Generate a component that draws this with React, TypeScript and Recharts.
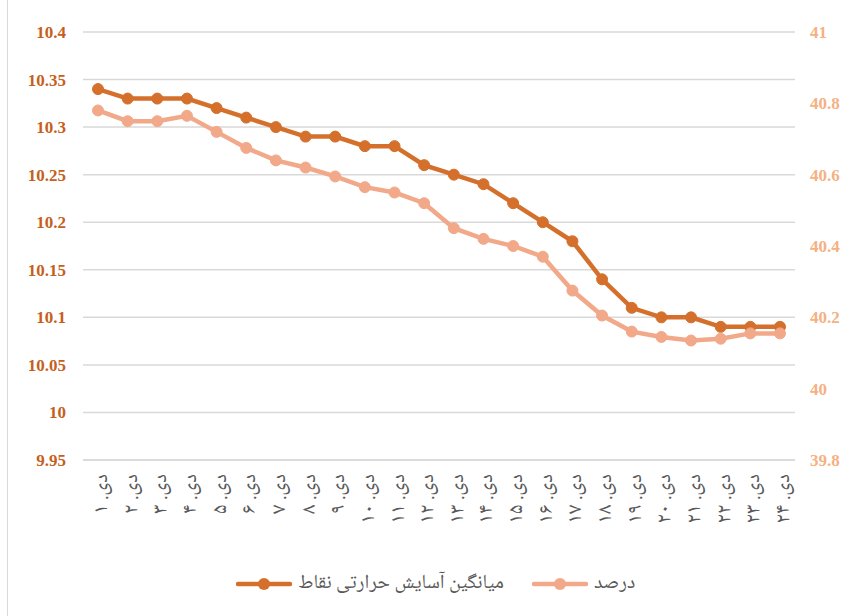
import React from 'react'
import { LineChart, Line, XAxis, YAxis, CartesianGrid } from 'recharts'

// x categories (rotated labels under the axis)
const categories = [
  'دی. ۱', 'دی. ۲', 'دی. ۳', 'دی. ۴', 'دی. ۵', 'دی. ۶', 'دی. ۷', 'دی. ۸',
  'دی. ۹', 'دی. ۱۰', 'دی. ۱۱', 'دی. ۱۲', 'دی. ۱۳', 'دی. ۱۴', 'دی. ۱۵', 'دی. ۱۶',
  'دی. ۱۷', 'دی. ۱۸', 'دی. ۱۹', 'دی. ۲۰', 'دی. ۲۱', 'دی. ۲۲', 'دی. ۲۳', 'دی. ۲۴',
]

// left axis series
const comfortAvg = [
  10.34, 10.33, 10.33, 10.33, 10.32, 10.31, 10.30, 10.29, 10.29, 10.28, 10.28, 10.26,
  10.25, 10.24, 10.22, 10.20, 10.18, 10.14, 10.11, 10.10, 10.10, 10.09, 10.09, 10.09,
]

// right axis series
const percent = [
  40.78, 40.75, 40.75, 40.765, 40.72, 40.675, 40.64, 40.62, 40.595, 40.565, 40.55, 40.52,
  40.45, 40.42, 40.40, 40.37, 40.275, 40.205, 40.16, 40.145, 40.135, 40.14, 40.155, 40.155,
]

const leftTicks = [9.95, 10, 10.05, 10.1, 10.15, 10.2, 10.25, 10.3, 10.35, 10.4]
const rightTicks = [39.8, 40, 40.2, 40.4, 40.6, 40.8, 41]

const seriesNames = ['میانگین آسایش حرارتی نقاط', 'درصد']

const DARK = '#D4702C'
const LIGHT = '#F2A98A'
const RIGHT_TEXT = '#F4B183'
const LEFT_TEXT = '#C65F1E'
const GRID = '#D9D9D9'
const TEXT = '#595959'
const SERIF = 'Liberation Serif, DejaVu Serif, serif'
const ARABIC_FONT = "'Noto Naskh Arabic', 'Noto Sans Arabic', 'DejaVu Serif', 'DejaVu Sans', serif"

const data = categories.map((name, i) => ({
  name,
  comfort: comfortAvg[i],
  percent: percent[i],
}))

const fmt = (v: number) => String(parseFloat(v.toFixed(2)))

function XTick({ x, y, payload }: any) {
  const bx = x + 9
  const by = y + 14
  return (
    <text
      x={bx}
      y={by}
      transform={`rotate(-90 ${bx} ${by})`}
      textAnchor="end"
      fill={TEXT}
      fontSize={21}
      fontFamily={ARABIC_FONT}
    >
      {payload.value}
    </text>
  )
}

function LeftTick({ x, y, payload }: any) {
  return (
    <text x={x} y={y} dy={6} textAnchor="end" fill={LEFT_TEXT}
      fontSize={17} fontWeight={700} fontFamily={SERIF}>
      {fmt(payload.value)}
    </text>
  )
}

function RightTick({ x, y, payload }: any) {
  return (
    <text x={x} y={y} dy={6} textAnchor="start" fill={RIGHT_TEXT}
      fontSize={17} fontWeight={700} fontFamily={SERIF}>
      {fmt(payload.value)}
    </text>
  )
}

function LegendItem({ color, label, width }: { color: string; label: string; width: number }) {
  return (
    <div style={{ display: 'flex', alignItems: 'center', width: width }}>
      <svg width={56} height={14} style={{ marginRight: 6, flex: 'none' }}>
        <line x1={2} y1={7} x2={54} y2={7} stroke={color} strokeWidth={4.5} strokeLinecap="round" />
        <circle cx={28} cy={7} r={6} fill={color} />
      </svg>
      <span style={{ color: TEXT, fontSize: 20, fontFamily: ARABIC_FONT, direction: 'rtl', whiteSpace: 'nowrap' }}>{label}</span>
    </div>
  )
}

export default function App() {
  return (
    <div style={{ position: 'fixed', left: 0, top: 0, width: 852, height: 616, background: '#fff', overflow: 'hidden' }}>
      <div style={{ position: 'absolute', left: 7, top: 0, width: 1, height: 616, background: GRID }} />
      <LineChart
        width={852}
        height={616}
        data={data}
        margin={{ top: 32, right: 0, left: 8, bottom: 86 }}
      >
        <CartesianGrid yAxisId="left" vertical={false} stroke={GRID} strokeWidth={1.5} />
        <XAxis
          dataKey="name"
          interval={0}
          height={70}
          padding={{ left: 15, right: 15 }}
          tick={<XTick />}
          tickLine={false}
          tickSize={0}
          tickMargin={0}
          axisLine={{ stroke: GRID, strokeWidth: 1.5 }}
        />
        <YAxis
          yAxisId="left"
          width={75}
          domain={[9.95, 10.4]}
          ticks={leftTicks}
          axisLine={false}
          tickLine={false}
          tickSize={0}
          tickMargin={17}
          tick={<LeftTick />}
        />
        <YAxis
          yAxisId="right"
          orientation="right"
          width={57}
          domain={[39.8, 41]}
          ticks={rightTicks}
          axisLine={false}
          tickLine={false}
          tickSize={0}
          tickMargin={15}
          tick={<RightTick />}
        />
        <Line
          yAxisId="left"
          dataKey="comfort"
          name={seriesNames[0]}
          stroke={DARK}
          strokeWidth={4.5}
          dot={{ r: 5.5, fill: DARK, stroke: DARK, strokeWidth: 1 }}
          isAnimationActive={false}
        />
        <Line
          yAxisId="right"
          dataKey="percent"
          name={seriesNames[1]}
          stroke={LIGHT}
          strokeWidth={4.5}
          dot={{ r: 5.5, fill: LIGHT, stroke: LIGHT, strokeWidth: 1 }}
          isAnimationActive={false}
        />
      </LineChart>
      <div style={{ position: 'absolute', left: 236, top: 567, display: 'flex', alignItems: 'center' }}>
        <LegendItem color={DARK} label={seriesNames[0]} width={296} />
        <LegendItem color={LIGHT} label={seriesNames[1]} width={110} />
      </div>
    </div>
  )
}
